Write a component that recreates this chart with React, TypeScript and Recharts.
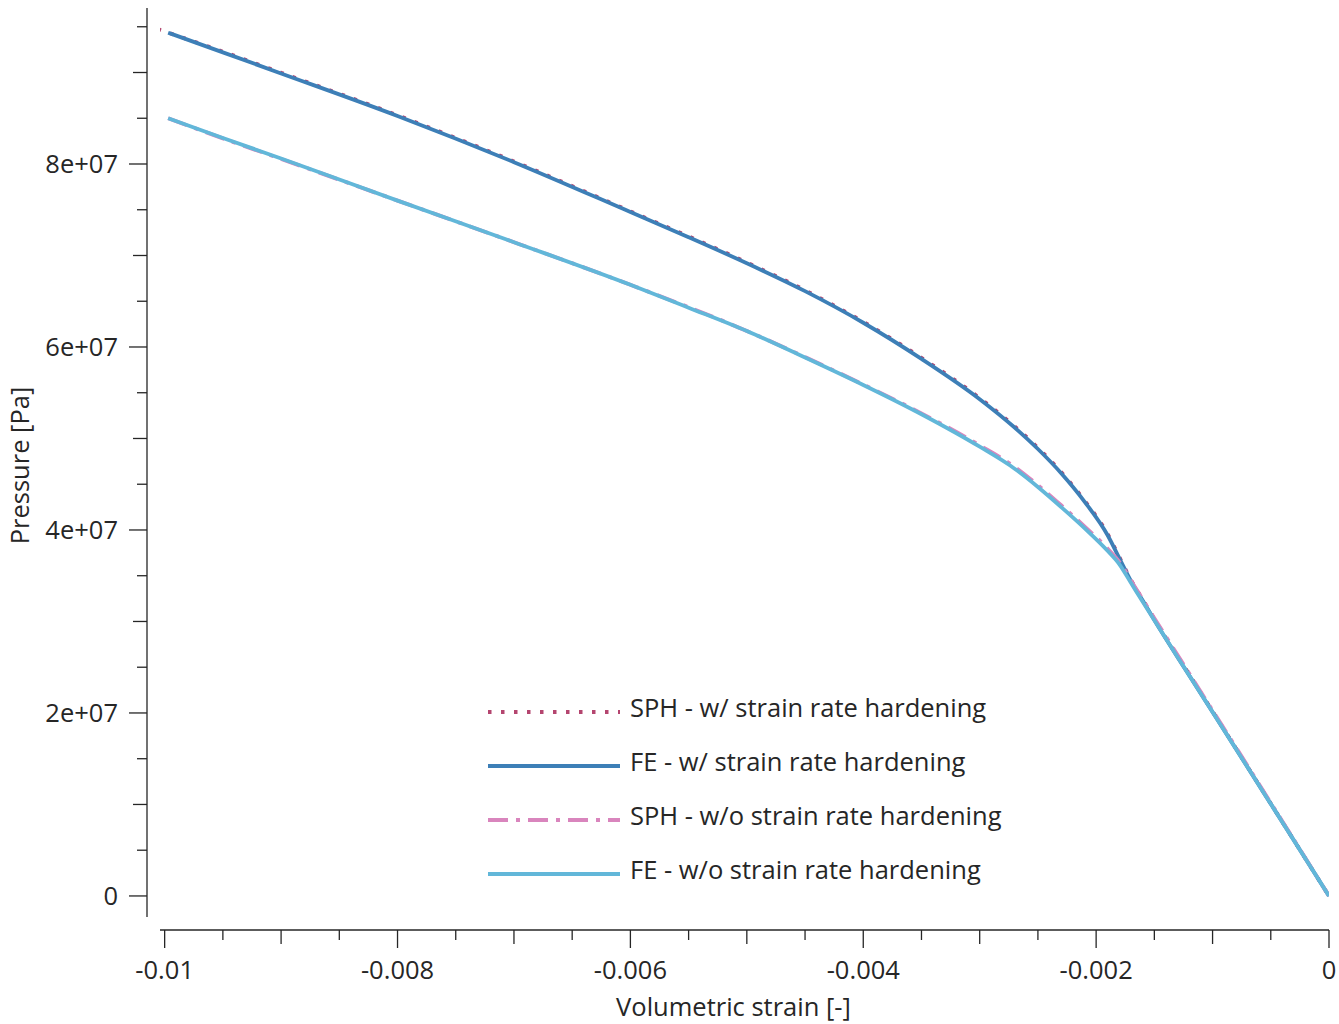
import { LineChart, Line, XAxis, YAxis, Legend } from 'recharts'

// volumetric strain [-] and pressure [Pa]
const strainSphW = [-0.01006, -0.0095, -0.009, -0.008, -0.007, -0.006, -0.005, -0.0045, -0.004, -0.0035, -0.003, -0.0027, -0.0025, -0.0023, -0.0021, -0.0019, -0.0018, -0.0017, -0.0016, -0.0015, -0.0012, -0.0008, -0.0004, 0]
const pressureSphW = [9.475e7, 9.228e7, 8.998e7, 8.533e7, 8.028e7, 7.483e7, 6.925e7, 6.62e7, 6.275e7, 5.882e7, 5.442e7, 5.133e7, 4.898e7, 4.633e7, 4.323e7, 3.953e7, 3.703e7, 3.452e7, 3.24e7, 3.025e7, 2.42e7, 1.615e7, 0.808e7, 0]

const strainFeW = [-0.00997, -0.0095, -0.009, -0.008, -0.007, -0.006, -0.0055, -0.005, -0.0045, -0.004, -0.0035, -0.003, -0.0027, -0.0025, -0.0023, -0.0021, -0.0019, -0.0018, -0.0017, -0.0016, -0.0015, -0.0012, -0.0008, -0.0004, 0]
const pressureFeW = [9.435e7, 9.22e7, 8.99e7, 8.525e7, 8.02e7, 7.475e7, 7.2e7, 6.915e7, 6.61e7, 6.265e7, 5.87e7, 5.43e7, 5.12e7, 4.885e7, 4.62e7, 4.31e7, 3.94e7, 3.69e7, 3.44e7, 3.23e7, 3.015e7, 2.41e7, 1.61e7, 0.805e7, 0]

const strainSphWo = [-0.00997, -0.0095, -0.009, -0.008, -0.007, -0.006, -0.005, -0.0045, -0.004, -0.0035, -0.003, -0.0027, -0.0025, -0.0023, -0.0021, -0.0019, -0.0018, -0.0017, -0.0016, -0.0012, -0.0008, -0.0004, 0]
const pressureSphWo = [8.5e7, 8.28e7, 8.055e7, 7.6e7, 7.145e7, 6.68e7, 6.175e7, 5.89e7, 5.59e7, 5.275e7, 4.925e7, 4.69e7, 4.49e7, 4.27e7, 4.04e7, 3.795e7, 3.65e7, 3.445e7, 3.24e7, 2.43e7, 1.625e7, 0.815e7, 0]

const strainFeWo = [-0.00997, -0.0095, -0.009, -0.008, -0.007, -0.006, -0.0055, -0.005, -0.0045, -0.004, -0.0035, -0.003, -0.0027, -0.0025, -0.0023, -0.0021, -0.0019, -0.0018, -0.0017, -0.0016, -0.0012, -0.0008, -0.0004, 0]
const pressureFeWo = [8.5e7, 8.285e7, 8.06e7, 7.6e7, 7.145e7, 6.68e7, 6.43e7, 6.175e7, 5.885e7, 5.585e7, 5.265e7, 4.91e7, 4.67e7, 4.47e7, 4.25e7, 4.02e7, 3.77e7, 3.625e7, 3.42e7, 3.215e7, 2.41e7, 1.61e7, 0.805e7, 0]

const xTicks = [-0.01, -0.0095, -0.009, -0.0085, -0.008, -0.0075, -0.007, -0.0065, -0.006, -0.0055, -0.005, -0.0045, -0.004, -0.0035, -0.003, -0.0025, -0.002, -0.0015, -0.001, -0.0005, 0]
const xMajor = [-0.01, -0.008, -0.006, -0.004, -0.002, 0]
const xMajorLabels = ['-0.01', '-0.008', '-0.006', '-0.004', '-0.002', '0']

const yTicks = [0, 5e6, 1e7, 1.5e7, 2e7, 2.5e7, 3e7, 3.5e7, 4e7, 4.5e7, 5e7, 5.5e7, 6e7, 6.5e7, 7e7, 7.5e7, 8e7, 8.5e7, 9e7, 9.5e7]
const yMajor = [0, 2e7, 4e7, 6e7, 8e7]
const yMajorLabels = ['0', '2e+07', '4e+07', '6e+07', '8e+07']

const FONT = '"Open Sans", "Noto Sans", sans-serif'
const FS = 25.5
const TEXT = '#262626'
const GAP = 13

const zip = (xs: number[], ys: number[]) => xs.map((x, i) => ({ x, y: ys[i] }))

const SERIES = [
  { name: 'SPH - w/ strain rate hardening', data: zip(strainSphW, pressureSphW), color: '#b4456f', dash: '3.5 9.5' },
  { name: 'FE - w/ strain rate hardening', data: zip(strainFeW, pressureFeW), color: '#3d7fb7', dash: undefined },
  { name: 'SPH - w/o strain rate hardening', data: zip(strainSphWo, pressureSphWo), color: '#d985bd', dash: '20 8 4 8' },
  { name: 'FE - w/o strain rate hardening', data: zip(strainFeWo, pressureFeWo), color: '#62b7d9', dash: undefined },
]

function tickLength(i: number) {
  if (i % 4 === 0) return 18
  if (i % 2 === 0) return 14
  return 10
}

function XTick(props: any) {
  const { x, y, payload } = props
  const i = xTicks.indexOf(payload.value)
  const m = xMajor.indexOf(payload.value)
  const y0 = y + GAP
  return (
    <g>
      <line x1={x} x2={x} y1={y0} y2={y0 + tickLength(i)} stroke={TEXT} strokeWidth={1.3} />
      {m >= 0 && (
        <text x={x} y={y0 + 49} textAnchor="middle" fill={TEXT} fontSize={FS} fontFamily={FONT}>
          {xMajorLabels[m]}
        </text>
      )}
    </g>
  )
}

function YTick(props: any) {
  const { x, y, payload } = props
  const i = yTicks.indexOf(payload.value)
  const m = yMajor.indexOf(payload.value)
  const x0 = x - GAP
  return (
    <g>
      <line x1={x0} x2={x0 - tickLength(i)} y1={y} y2={y} stroke={TEXT} strokeWidth={1.3} />
      {m >= 0 && (
        <text x={x0 - 29} y={y + 9} textAnchor="end" fill={TEXT} fontSize={FS} fontFamily={FONT}>
          {yMajorLabels[m]}
        </text>
      )}
    </g>
  )
}

function LegendContent() {
  return (
    <div style={{ fontFamily: FONT, fontSize: FS, color: TEXT }}>
      {SERIES.map(s => (
        <div key={s.name} style={{ display: 'flex', alignItems: 'center', height: 54 }}>
          <svg width={132} height={8} style={{ display: 'block' }}>
            <line x1={0} y1={4} x2={132} y2={4} stroke={s.color} strokeWidth={4} strokeDasharray={s.dash} />
          </svg>
          <span style={{ marginLeft: 10, whiteSpace: 'nowrap', lineHeight: 1, position: 'relative', top: -4 }}>{s.name}</span>
        </div>
      ))}
    </div>
  )
}

export default function App() {
  return (
    <div style={{ position: 'absolute', left: 0, top: 0, width: 1339, height: 1024, background: '#fff' }}>
      <LineChart width={1339} height={1024} margin={{ top: 8, right: 10, bottom: 0, left: 0 }}>
        <XAxis
          dataKey="x"
          type="number"
          domain={[-0.01004, 0]}
          allowDataOverflow
          ticks={xTicks}
          interval={0}
          height={107}
          tickSize={0}
          tickMargin={0}
          tickLine={false}
          tick={<XTick />}
          axisLine={{ stroke: TEXT, strokeWidth: 1.3, transform: `translate(0, ${GAP})` }}
          label={{ value: 'Volumetric strain [-]', position: 'insideBottom', offset: 8, dx: -11, fill: TEXT, fontSize: FS, fontFamily: FONT }}
        />
        <YAxis
          type="number"
          domain={[-2.3e6, 9.705e7]}
          allowDataOverflow
          ticks={yTicks}
          interval={0}
          width={160}
          tickSize={0}
          tickMargin={0}
          tickLine={false}
          tick={<YTick />}
          axisLine={{ stroke: TEXT, strokeWidth: 1.3, transform: `translate(${-GAP}, 0)` }}
          label={{ value: 'Pressure [Pa]', angle: -90, position: 'insideLeft', offset: 20, dy: 3, fill: TEXT, fontSize: FS, fontFamily: FONT, style: { textAnchor: 'middle' } }}
        />
        <Legend
          layout="vertical"
          align="center"
          verticalAlign="middle"
          wrapperStyle={{ left: 488, top: 685, width: 620 }}
          content={<LegendContent />}
        />
        {SERIES.map(s => (
          <Line
            key={s.name}
            data={s.data}
            dataKey="y"
            name={s.name}
            type="monotone"
            stroke={s.color}
            strokeWidth={3.8}
            strokeDasharray={s.dash}
            dot={false}
            activeDot={false}
            isAnimationActive={false}
          />
        ))}
      </LineChart>
    </div>
  )
}
